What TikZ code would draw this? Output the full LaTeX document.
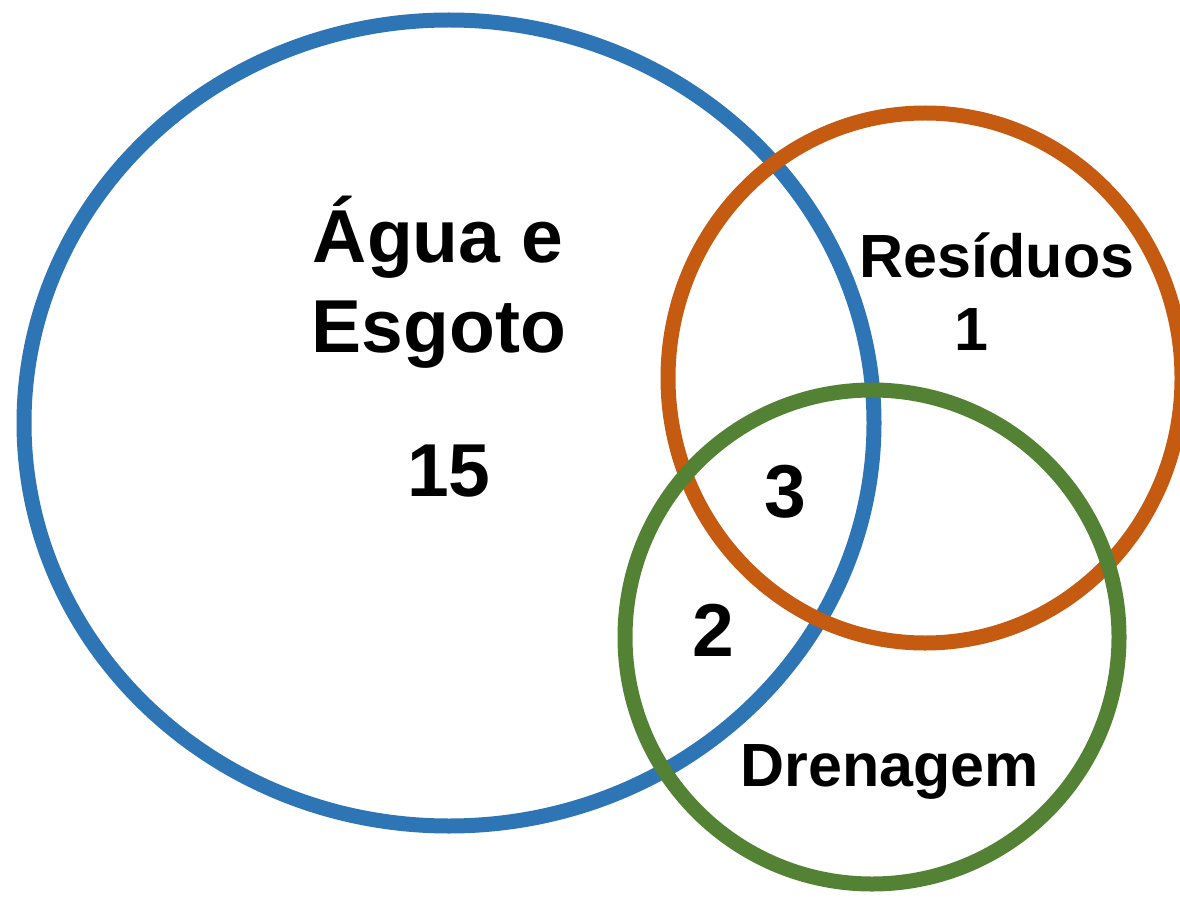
\documentclass[tikz,border=0pt]{standalone}
\usepackage{fontspec}
\setmainfont{Liberation Sans}
\definecolor{vblue}{HTML}{2E75B6}
\definecolor{vorange}{HTML}{C55A11}
\definecolor{vgreen}{HTML}{548235}
\begin{document}
\begin{tikzpicture}[x=1pt,y=-1pt,
  ring/.style={line width=15pt},
  big/.style={font=\fontsize{75}{90}\selectfont\bfseries, inner sep=0pt, anchor=base},
  small/.style={font=\fontsize{61}{73}\selectfont\bfseries, inner sep=0pt, anchor=base}]
\useasboundingbox (0,0) rectangle (1180,901);
\draw[ring, vblue] (449,423) ellipse [x radius=425, y radius=403];
\draw[ring, vorange] (925,378) ellipse [x radius=257, y radius=265];
\draw[ring, vgreen] (872,637) circle [radius=247];
\node[big] (agua1) at (438,262) {Água e};
\node[big] (agua2) at (439,352) {Esgoto};
\node[big] (n15) at (449,496) {15};
\node[small] (res) at (997,277) {Resíduos};
\node[small] (n1) at (971,350) {1};
\node[big] (n3) at (785,517) {3};
\node[big] (n2) at (713,656) {2};
\node[small] (dren) at (890,786) {Drenagem};
\end{tikzpicture}
\end{document}
